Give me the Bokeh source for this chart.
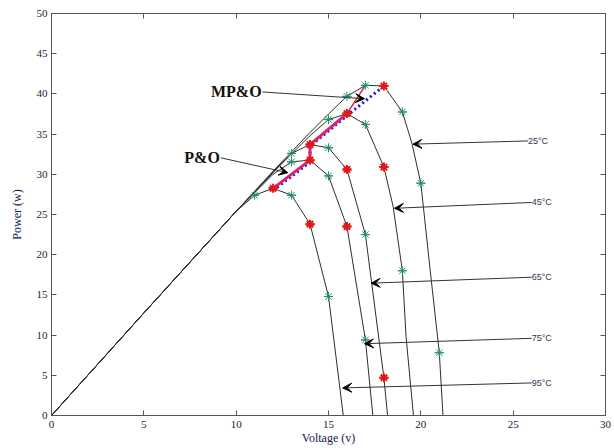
from bokeh.plotting import figure
from bokeh.models import Arrow, VeeHead, Label, LinearAxis, Range1d, FixedTicker
from bokeh.embed import file_html
from bokeh.resources import INLINE

# ---- data ----
x_ticks = [0, 5, 10, 15, 20, 25, 30]
y_ticks = [0, 5, 10, 15, 20, 25, 30, 35, 40, 45, 50]

# P-V curves (voltage V, power W)
v25 = [0, 5, 10, 12, 14, 15, 16, 17, 18, 19, 19.5, 20, 20.5, 21, 21.2]
p25 = [0, 12.75, 25.4, 30.4, 35.2, 37.5, 39.7, 41.07, 40.98, 37.75, 34.0, 28.9, 18.2, 7.8, 0]
v45 = [0, 5, 10, 12, 14, 15, 16, 17, 18, 18.5, 19, 19.2, 19.6]
p45 = [0, 12.75, 25.4, 30.3, 34.8, 36.8, 37.55, 36.2, 30.9, 26.0, 18.0, 9.8, 0]
v65 = [0, 5, 10, 12, 13, 14, 15, 16, 17, 18, 18.2]
p65 = [0, 12.75, 25.4, 30.2, 32.6, 33.7, 33.3, 30.6, 22.5, 4.7, 0]
v75 = [0, 5, 10, 12, 13, 14, 15, 16, 17, 17.4]
p75 = [0, 12.75, 25.4, 30.0, 31.55, 31.76, 29.8, 23.5, 9.4, 0]
v95 = [0, 5, 10, 11, 12, 13, 14, 15, 15.8]
p95 = [0, 12.75, 25.4, 27.4, 28.25, 27.4, 23.8, 14.8, 0]

# marker points
green_v = [11, 13, 15, 13, 15, 17, 13, 15, 17, 15, 17, 19, 16, 17, 19, 20, 21]
green_p = [27.4, 27.4, 14.8, 31.55, 29.8, 9.4, 32.6, 33.3, 22.5, 36.8, 36.2, 18.0, 39.7, 41.07, 37.75, 28.9, 7.8]
red_v = [12, 14, 14, 16, 14, 16, 18, 16, 18, 18]
red_p = [28.25, 23.8, 31.76, 23.5, 33.7, 30.6, 4.7, 37.55, 30.9, 40.98]

# tracking paths
mpo_v = [12, 14, 14, 16, 18]
mpo_p = [28.0, 31.5, 33.5, 37.3, 40.98]
po_v = [12, 14, 14, 16]
po_p = [28.25, 31.76, 33.7, 37.55]
po_tail_v = [16, 17]
po_tail_p = [37.55, 41.07]

# temperature annotations
temp_labels = ["25°C", "45°C", "65°C", "75°C", "95°C"]
label_v = [25.8, 26.0, 26.0, 26.0, 26.0]
label_p = [34.15, 26.5, 17.2, 9.6, 4.05]
tip_v = [19.57, 18.57, 17.31, 16.95, 15.77]
tip_p = [33.75, 25.77, 16.46, 8.93, 3.43]

# method annotations
method_labels = ["MP&O", "P&O"]
method_v = [11.43, 9.17]
method_p = [40.24, 32.05]
method_tip_v = [16.95, 12.8]
method_tip_p = [39.4, 30.2]

# ---- figure ----
p = figure(width=613, height=447, x_range=Range1d(0, 30), y_range=Range1d(0, 50),
           output_backend="svg", toolbar_location=None,
           min_border_left=51, min_border_right=8, min_border_top=13, min_border_bottom=0)
p.grid.visible = False
p.outline_line_color = "#555555"
p.background_fill_color = "white"
p.border_fill_color = "white"

axcol = "#555555"
for ax in [p.xaxis[0], p.yaxis[0]]:
    ax.axis_line_color = axcol
    ax.major_tick_line_color = axcol
    ax.major_tick_in = 5
    ax.major_tick_out = 0
    ax.minor_tick_line_color = None
    ax.major_label_text_font = "Liberation Serif"
    ax.major_label_text_font_size = "11px"
    ax.major_label_text_color = "#222233"
    ax.axis_label_text_font = "Liberation Serif"
    ax.axis_label_text_font_size = "12px"
    ax.axis_label_text_font_style = "normal"
    ax.axis_label_text_color = "#202050"

p.xaxis.ticker = FixedTicker(ticks=x_ticks)
p.yaxis.ticker = FixedTicker(ticks=y_ticks)
p.xaxis.axis_label = "Voltage (v)"
p.yaxis.axis_label = "Power (w)"
p.xaxis.major_label_standoff = 5
p.xaxis.axis_label_standoff = 0
p.yaxis.major_label_standoff = 4
p.yaxis.axis_label_standoff = 10

# mirrored ticks on top / right (labels not drawn)
right_ax = LinearAxis(ticker=FixedTicker(ticks=y_ticks), major_label_text_font_size="1px",
                      major_label_text_color=None,
                      major_label_standoff=0, major_tick_in=5, major_tick_out=0,
                      minor_tick_line_color=None, axis_line_color=axcol,
                      major_tick_line_color=axcol)
top_ax = LinearAxis(ticker=FixedTicker(ticks=x_ticks), major_label_text_font_size="1px",
                    major_label_text_color=None,
                    major_label_standoff=0, major_tick_in=5, major_tick_out=0,
                    minor_tick_line_color=None, axis_line_color=axcol,
                    major_tick_line_color=axcol)
p.add_layout(right_ax, "right")
p.add_layout(top_ax, "above")

# curves
curve_col = "#2e2e2e"
for vv, pp in [(v25, p25), (v45, p45), (v65, p65), (v75, p75), (v95, p95)]:
    p.line(vv, pp, line_color=curve_col, line_width=1)

# tracking paths
p.line(mpo_v, mpo_p, line_color="#1a1ad0", line_width=3, line_dash="2 3")
p.line(po_v, po_p, line_color="#e0206e", line_width=3)
p.line(po_tail_v, po_tail_p, line_color="#e02040", line_width=1.5)

# markers
green = "#20906a"
red = "#e01818"
p.scatter(green_v, green_p, marker="asterisk", size=9, line_color=green, line_width=1)
p.scatter(green_v, green_p, marker="dash", size=9, line_color=green, line_width=1)
p.scatter(red_v, red_p, marker="asterisk", size=9, line_color=red, line_width=2)
p.scatter(red_v, red_p, marker="dash", size=9, line_color=red, line_width=2)

# temperature arrows and labels
for t, lv, lp, tv, tp in zip(temp_labels, label_v, label_p, tip_v, tip_p):
    p.add_layout(Arrow(end=VeeHead(size=9, fill_color="black", line_color="black"),
                       x_start=lv, y_start=lp, x_end=tv, y_end=tp,
                       line_color="#333333", line_width=1))
    p.add_layout(Label(x=lv, y=lp, text=t, text_font="Liberation Sans",
                       text_font_size="9px", text_color="#333355",
                       text_align="left", text_baseline="middle"))

# method arrows and labels
for t, lv, lp, tv, tp in zip(method_labels, method_v, method_p, method_tip_v, method_tip_p):
    p.add_layout(Arrow(end=VeeHead(size=9, fill_color="black", line_color="black"),
                       x_start=lv, y_start=lp, x_end=tv, y_end=tp,
                       line_color="#333333", line_width=1))
    p.add_layout(Label(x=lv, y=lp, text=t, text_font="Liberation Serif",
                       text_font_style="bold", text_font_size="16px", text_color="#111111",
                       text_align="right", text_baseline="middle", x_offset=-1))

open("out.html", "w").write(file_html(p, INLINE))
